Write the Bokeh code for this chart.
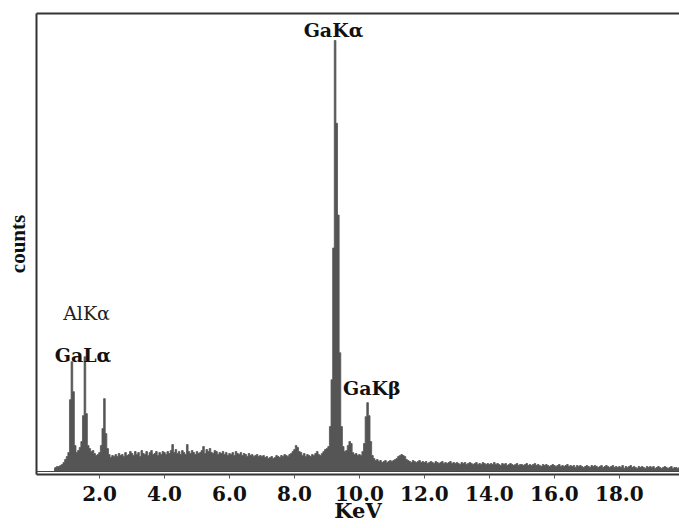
import numpy as np
from bokeh.plotting import figure
from bokeh.models import ColumnDataSource, Range1d, LinearAxis, FixedTicker, Span
from bokeh.core.properties import value
from bokeh.embed import file_html
from bokeh.resources import INLINE

# EDS spectrum: counts per 0.05 keV channel, starting at 0.60 keV
channel_start = 0.60
channel_width = 0.05
counts = [
    # 0.60 - 0.95
    30, 40, 50, 50, 60, 70, 90, 120,
    # 1.00 - 1.95 (Ga L-alpha, Al K-alpha)
    150, 190, 720, 1100, 800, 260, 190, 210, 240, 300,
    560, 1150, 580, 260, 230, 200, 210, 180, 160, 170,
    # 2.00 - 2.95
    190, 260, 430, 730, 380, 230, 170, 140, 160, 150,
    170, 150, 180, 160, 170, 150, 190, 160, 170, 200,
    # 3.00 - 3.95
    180, 160, 200, 170, 190, 150, 210, 180, 170, 200,
    160, 190, 210, 170, 180, 200, 160, 190, 170, 200,
    # 4.00 - 4.95
    190, 170, 200, 180, 210, 270, 190, 220, 180, 200,
    170, 210, 190, 170, 270, 200, 180, 210, 190, 170,
    # 5.00 - 5.95
    200, 180, 190, 210, 250, 180, 220, 200, 230, 190,
    180, 210, 200, 170, 190, 180, 200, 170, 190, 160,
    # 6.00 - 6.95
    180, 170, 190, 160, 200, 180, 170, 190, 160, 180,
    170, 150, 180, 160, 170, 150, 160, 170, 150, 160,
    # 7.00 - 7.95
    150, 160, 140, 150, 130, 140, 150, 130, 140, 160,
    150, 140, 160, 150, 170, 160, 150, 170, 180, 200,
    # 8.00 - 8.95
    220, 260, 240, 200, 190, 160, 180, 150, 170, 160,
    150, 170, 160, 180, 200, 170, 160, 180, 200, 220,
    # 9.00 - 9.95 (Ga K-alpha)
    230, 250, 450, 920, 2240, 4320, 3490, 2570, 1190, 450,
    250, 200, 210, 260, 300, 280, 190, 170, 180, 160,
    # 10.00 - 10.95 (Ga K-beta)
    170, 160, 200, 280, 550, 690, 560, 300, 160, 130,
    110, 120, 100, 110, 90, 100, 110, 90, 100, 110,
    # 11.00 - 11.95
    100, 110, 120, 130, 150, 160, 170, 160, 150, 120,
    110, 100, 90, 110, 100, 90, 100, 110, 90, 100,
    # 12.00 - 12.95
    90, 100, 80, 90, 100, 90, 80, 100, 90, 80,
    90, 100, 80, 90, 80, 90, 100, 80, 90, 80,
    # 13.00 - 13.95
    90, 80, 70, 90, 80, 90, 70, 80, 90, 80,
    70, 80, 90, 70, 80, 70, 90, 80, 70, 80,
    # 14.00 - 14.95
    70, 80, 70, 90, 70, 80, 70, 60, 80, 70,
    80, 60, 70, 80, 70, 60, 70, 80, 60, 70,
    # 15.00 - 15.95
    70, 60, 70, 80, 60, 70, 60, 70, 80, 60,
    70, 60, 50, 70, 60, 70, 60, 50, 60, 70,
    # 16.00 - 16.95
    60, 50, 60, 70, 50, 60, 50, 60, 70, 50,
    60, 50, 60, 40, 60, 50, 60, 50, 40, 50,
    # 17.00 - 17.95
    60, 50, 40, 60, 50, 60, 50, 40, 50, 60,
    40, 50, 60, 50, 40, 50, 60, 40, 50, 40,
    # 18.00 - 18.95
    50, 40, 60, 30, 50, 40, 50, 60, 40, 50,
    40, 30, 50, 40, 50, 40, 30, 50, 40, 50,
    # 19.00 - 19.85
    40, 50, 30, 40, 50, 40, 30, 40, 50, 40,
    30, 40, 50, 30, 40, 40, 30, 40,
]
energy = [round(channel_start + channel_width * i, 2) for i in range(len(counts))]

# x-axis ticks
tick_values = [2, 4, 6, 8, 10, 12, 14, 16, 18]
tick_labels = ["2.0", "4.0", "6.0", "8.0", "10.0", "12.0", "14.0", "16.0", "18.0"]
x_title = "KeV"
y_title = "counts"

# peak labels (line names, position in keV / counts)
bold_names = ["GaK\u03b1", "GaL\u03b1", "GaK\u03b2"]
bold_x = [9.2, 1.49, 10.38]
bold_y = [4420, 1170, 840]
plain_names = ["AlK\u03b1"]
plain_x = [1.6]
plain_y = [1590]

SERIF_WIDE = "DejaVu Serif"
INK = "#111111"
SPEC = "#555555"

p = figure(
    width=679, height=528,
    x_range=Range1d(0.06, 19.85), y_range=Range1d(-30, 4590),
    output_backend="svg", toolbar_location=None,
    min_border_left=36, min_border_right=0, min_border_top=13, min_border_bottom=54,
)
p.outline_line_color = None
p.grid.visible = False
p.background_fill_color = "white"
p.border_fill_color = "white"

spec = ColumnDataSource(dict(energy=energy, counts=counts, base=[0] * len(counts)))
# histogram drawn as one filled step area plus its outline
p.varea_step(x="energy", y1="base", y2="counts", step_mode="center", source=spec,
             fill_color=SPEC)
p.step(x="energy", y="counts", mode="center", source=spec, line_color=SPEC, line_width=0.8)

# baseline just above the bottom axis (double rule look)
p.add_layout(Span(location=0, dimension="width", line_color="#444444", line_width=1.2))

# bottom axis
xa = p.xaxis[0]
xa.ticker = FixedTicker(ticks=tick_values)
xa.major_label_overrides = {float(v): s for v, s in zip(tick_values, tick_labels)}
xa.minor_tick_line_color = None
xa.major_tick_in = 0
xa.major_tick_out = 4
xa.major_tick_line_color = "#555555"
xa.axis_line_color = "#333333"
xa.axis_line_width = 2
xa.major_label_text_font = SERIF_WIDE
xa.major_label_text_font_style = "bold"
xa.major_label_text_font_size = "20px"
xa.major_label_text_line_height = 1.0
xa.major_label_text_color = INK
xa.major_label_standoff = 7
xa.axis_label = x_title
xa.axis_label_text_font = SERIF_WIDE
xa.axis_label_text_font_style = "bold"
xa.axis_label_text_font_size = "21px"
xa.axis_label_text_line_height = 1.0
xa.axis_label_text_color = INK
xa.axis_label_standoff = -6

# left axis: frame line and "counts" only
ya = p.yaxis[0]
ya.ticker = FixedTicker(ticks=[])
ya.minor_tick_line_color = None
ya.major_tick_line_color = None
ya.axis_line_color = "#333333"
ya.axis_line_width = 2
ya.axis_label = y_title
ya.axis_label_text_font = "Liberation Serif"
ya.axis_label_text_font_style = "bold"
ya.axis_label_text_font_size = "21px"
ya.axis_label_text_color = INK
ya.axis_label_standoff = 7

# top frame line
top = LinearAxis(ticker=FixedTicker(ticks=[]), axis_line_color="#333333", axis_line_width=2,
                 major_tick_line_color=None, minor_tick_line_color=None)
p.add_layout(top, "above")

p.text(x=bold_x, y=bold_y, text=bold_names, text_font=value(SERIF_WIDE),
       text_font_style="bold", text_font_size="19px", text_color=INK,
       text_align="center", text_baseline="middle")
p.text(x=plain_x, y=plain_y, text=plain_names, text_font=value(SERIF_WIDE),
       text_font_style="normal", text_font_size="19px", text_color="#222222",
       text_align="center", text_baseline="middle")

open("out.html", "w").write(file_html(p, INLINE))
